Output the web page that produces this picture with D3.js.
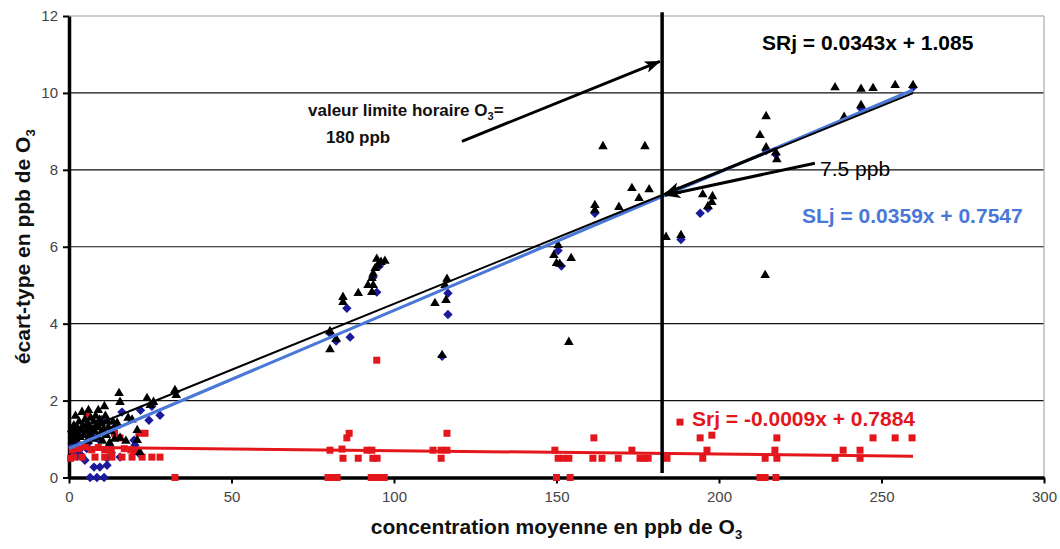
<!DOCTYPE html>
<html><head><meta charset="utf-8">
<script src="https://cdn.jsdelivr.net/npm/d3@7"></script>
<style>body{margin:0;background:#fff} svg{display:block}</style>
</head><body><svg id="c" width="1060" height="549"></svg>
<script>
// ---------- DATA ----------
const xTicks = [0, 50, 100, 150, 200, 250, 300];
const yTicks = [0, 2, 4, 6, 8, 10, 12];
const gridValues = [2, 4, 6, 8, 10];

// SRj (black triangles)
const srjBlackPoints = [
  [0.8,1.25],[1.0,0.95],[1.2,1.1],[1.5,1.35],[1.8,1.2],[2.0,1.6],[2.2,1.0],[2.5,1.3],[2.8,1.15],[3.1,1.45],
  [3.4,1.05],[3.7,1.25],[4.0,1.7],[4.3,1.35],[4.6,1.1],[4.9,1.5],[5.2,1.2],[5.5,0.95],[5.8,1.4],[6.0,1.75],
  [6.1,1.3],[6.4,1.1],[6.7,1.55],[7.0,1.25],[7.3,1.0],[7.6,1.45],[7.9,1.2],[8.2,1.6],[8.5,1.35],[8.8,1.05],
  [9.0,1.75],[9.1,1.3],[9.4,1.5],[9.7,1.15],[10.0,1.4],[10.3,0.95],[10.6,1.25],[10.9,1.85],[11.2,1.6],[11.5,1.1],
  [11.8,1.45],[12.1,1.3],[12.5,0.9],[13.0,1.2],[13.5,1.45],[14.0,1.0],[14.5,1.35],[14.8,1.42],[15.4,2.19],[15.7,1.96],
  [15.7,1.03],[17.5,0.95],[18.2,1.55],[19.4,1.5],[21.0,0.97],[21.0,1.23],[21.8,0.66],[24.0,2.06],[25.0,1.88],[26.0,1.96],
  [32.6,2.27],[33.0,2.14],
  [80.3,3.8],[80.3,3.33],[82.2,3.6],[84.3,4.69],[84.3,4.56],[89.0,4.79],[92.0,5.0],[93.2,5.18],[93.6,5.3],[94.2,5.44],
  [94.7,5.68],[95.0,5.52],[97.2,5.63],[93.6,5.0],[93.2,4.82],[96.0,5.6],
  [116.3,5.16],[115.7,5.0],[112.6,4.53],[116.0,4.61],[114.8,3.18],
  [150.5,6.04],[149.2,5.78],[150.0,5.57],[151.0,5.55],[154.5,5.7],[153.8,3.52],
  [161.8,7.08],[161.8,6.95],[164.3,8.61],[177.2,8.61],[169.2,7.03],[173.2,7.52],[175.4,7.26],[178.5,7.49],
  [183.7,6.25],[188.3,6.3],[195.0,7.36],[196.6,7.05],[197.8,7.16],[198.0,7.31],
  [212.6,8.9],[214.5,9.39],[214.5,8.58],[217.5,8.45],[217.8,8.27],[214.2,5.26],
  [235.7,10.14],[243.7,10.1],[247.4,10.12],[254.2,10.2],[259.7,10.2],[243.7,9.68],[238.5,9.37]
];

// SLj (blue diamonds)
const sljBluePoints = [
  [1.0,0.8],[1.5,0.65],[2.0,0.9],[2.5,0.55],[3.0,0.7],[3.5,0.6],[4.0,0.53],[4.9,0.45],[5.5,0.75],[6.5,0],
  [8.6,0],[10.8,0],[7.7,0.27],[9.5,0.27],[11.7,0.32],[11.7,0.5],[15.7,0.53],[21.5,0.63],[20.0,0.97],[20.3,0.84],
  [16.3,1.7],[24.6,1.49],[28.0,1.62],[12.5,0.8],[13.0,0.65],[7.0,1.1],[9.0,1.0],[3.0,1.2],[5.0,1.3],[10.0,1.5],
  [22.0,1.75],[25.5,1.85],[14.0,1.3],[6.0,0.9],
  [85.5,4.4],[86.5,3.65],[94.7,4.82],[116.6,4.79],[116.6,4.24],[114.8,3.15],[80.3,3.75],[82.2,3.55],[93.5,5.2],[95.5,5.5],
  [150.5,5.9],[151.5,5.5],[161.8,6.87],[188.3,6.19],[194.2,6.87],[196.6,7.0],[217.5,8.4],[214.5,8.5],[243.7,9.6],[259.7,10.15]
];

// Srj (red squares)
const srjRedPoints = [
  [0.5,0.5],[1.5,0.53],[4.0,0.53],[8.0,0.53],[11.0,0.53],[13.2,0.53],[16.3,0.53],[19.4,0.53],[22.5,0.53],[25.5,0.53],
  [28.0,0.53],[1.0,0.72],[3.0,0.75],[5.0,0.8],[7.0,0.72],[9.0,0.78],[11.0,0.72],[13.0,0.7],[17.0,0.75],[19.0,0.72],
  [14.0,1.15],[21.5,1.15],[23.4,1.15],[15.7,1.03],[5.5,1.6],[32.6,0],[20.0,0.7],
  [94.7,3.05],[86.2,1.15],[85.5,1.03],[80.3,0.71],[84.0,0.74],[84.3,0.5],[89.0,0.5],[91.7,0.71],[93.2,0.71],
  [93.5,0.5],[94.8,0.5],[79.7,0],[81.0,0],[82.5,0],[93.0,0],[94.5,0],[96.0,0],[97.0,0],
  [116.3,1.15],[112.0,0.71],[114.5,0.71],[116.3,0.71],[114.5,0.5],
  [150.0,0],[154.2,0],[149.5,0.71],[150.5,0.5],[152.0,0.5],[153.8,0.5],[161.5,1.03],[161.2,0.5],[164.0,0.5],
  [169.0,0.5],[173.2,0.71],[175.7,0.5],[177.0,0.5],[178.2,0.5],[184.0,0.5],[188.0,1.44],
  [194.2,1.03],[197.8,1.1],[196.3,0.71],[195.0,0.5],[214.2,0.5],[217.2,0.71],[217.8,1.03],[217.8,0.5],
  [212.6,0],[214.2,0],[217.5,0],[235.7,0.5],[238.2,0.71],[243.4,0.71],[243.4,0.5],[247.4,1.03],[254.2,1.03],[259.4,1.03]
];

// Trend lines
const trendNames = ["Srj", "SLj", "SRj"];
const trendSlopes = [-0.0009, 0.0359, 0.0343];
const trendIntercepts = [0.7884, 0.7547, 1.085];
const trendXRange = [0, 259.7];
const trendLabels = ["Srj = -0.0009x + 0.7884", "SLj = 0.0359x + 0.7547", "SRj = 0.0343x + 1.085"];

// limit value line
const limitX = 182.5;

// ---------- CHART ----------
const svg = d3.select("#c");
const W = 1060, H = 549;
const L = 69, R = 1044, T = 16, B = 477.5;
const x = d3.scaleLinear().domain([0, 300]).range([L, R]);
const y = d3.scaleLinear().domain([0, 12]).range([B, T]);
const FONT = "Arial, 'Liberation Sans', sans-serif";

svg.append("rect").attr("width", W).attr("height", H).attr("fill", "#fff");

const defs = svg.append("defs");
defs.append("marker").attr("id", "ah").attr("markerUnits", "userSpaceOnUse")
  .attr("markerWidth", 16).attr("markerHeight", 12).attr("refX", 15).attr("refY", 6)
  .attr("orient", "auto")
  .append("path").attr("d", "M0,0L16,6L0,12L4,6Z").attr("fill", "#000");

// grid
svg.append("g").selectAll("line").data(gridValues).join("line")
  .attr("x1", L).attr("x2", R).attr("y1", d => y(d)).attr("y2", d => y(d))
  .attr("stroke", "#111").attr("stroke-width", 1.2);
// top / right border
svg.append("line").attr("x1", L).attr("x2", R).attr("y1", y(12)).attr("y2", y(12)).attr("stroke", "#999").attr("stroke-width", 1.2);
svg.append("line").attr("x1", R).attr("x2", R).attr("y1", y(12)).attr("y2", B).attr("stroke", "#aaa").attr("stroke-width", 1.2);

// axes
const yAxis = d3.axisLeft(y).tickValues(yTicks).tickSize(6).tickSizeOuter(0).tickPadding(5);
const gy = svg.append("g").attr("transform", `translate(${L},0)`).call(yAxis);
const xAxis = d3.axisBottom(x).tickValues(xTicks).tickSize(6).tickSizeOuter(0).tickPadding(8);
const gx = svg.append("g").attr("transform", `translate(0,${B})`).call(xAxis);
[gx, gy].forEach(g => {
  g.select(".domain").attr("stroke", "#000").attr("stroke-width", 3.5);
  g.selectAll(".tick line").attr("stroke", "#000").attr("stroke-width", 2);
  g.selectAll(".tick text").attr("font-family", FONT).attr("font-size", 15).attr("fill", "#444");
});

// symbols
const diamond = { draw(ctx, size) { const r = Math.sqrt(size / 2); ctx.moveTo(0, -r); ctx.lineTo(r, 0); ctx.lineTo(0, r); ctx.lineTo(-r, 0); ctx.closePath(); } };
const pts = svg.append("g");
pts.append("g").selectAll("path").data(sljBluePoints).join("path")
  .attr("d", d3.symbol().type(diamond).size(44))
  .attr("transform", d => `translate(${x(d[0])},${y(d[1])})`)
  .attr("fill", "#1a1a9a");
pts.append("g").selectAll("rect").data(srjRedPoints).join("rect")
  .attr("x", d => x(d[0]) - 3.5).attr("y", d => y(d[1]) - 3.5).attr("width", 7).attr("height", 7)
  .attr("fill", "#e3161c");
pts.append("g").selectAll("path").data(srjBlackPoints).join("path")
  .attr("d", d3.symbol().type(d3.symbolTriangle).size(40))
  .attr("transform", d => `translate(${x(d[0])},${y(d[1])})`)
  .attr("fill", "#000");

// trend lines
const trendColors = ["#e3161c", "#4a78d8", "#000"];
const trendWidths = [3, 3.2, 2];
trendNames.forEach((n, i) => {
  const f = v => trendSlopes[i] * v + trendIntercepts[i];
  svg.append("line")
    .attr("x1", x(trendXRange[0])).attr("y1", y(f(trendXRange[0])))
    .attr("x2", x(trendXRange[1])).attr("y2", y(f(trendXRange[1])))
    .attr("stroke", trendColors[i]).attr("stroke-width", trendWidths[i]);
});

// limit vertical line
svg.append("line").attr("x1", x(limitX)).attr("x2", x(limitX)).attr("y1", y(12.1)).attr("y2", y(0.12))
  .attr("stroke", "#000").attr("stroke-width", 3.5);

// arrows
const srjF = v => trendSlopes[2] * v + trendIntercepts[2];
const arrows = [
  [[120.9, 8.74], [181.8, 10.82]],
  [[229.5, 8.17], [183.5, 7.34]],
  [[217.8, srjF(217.8)], [183.5, srjF(183.5)]]
];
svg.append("g").selectAll("line").data(arrows).join("line")
  .attr("x1", d => x(d[0][0])).attr("y1", d => y(d[0][1]))
  .attr("x2", d => x(d[1][0])).attr("y2", d => y(d[1][1]))
  .attr("stroke", "#000").attr("stroke-width", 3).attr("marker-end", "url(#ah)");

// annotation texts
const txt = (s, px, py, size, weight, color) => svg.append("text").attr("x", px).attr("y", py)
  .attr("font-family", FONT).attr("font-size", size).attr("font-weight", weight).attr("fill", color).text(s);
txt(trendLabels[2], 762, 50, 21, "bold", "#000");
txt(trendLabels[1], 802, 223, 21, "bold", "#4a78d8");
txt(trendLabels[0], 692, 426, 21, "bold", "#e3161c");
txt("7.5 ppb", 820, 176, 21, "normal", "#000");
const v1 = txt("valeur limite horaire O", 308, 116, 17, "bold", "#111");
v1.append("tspan").attr("font-size", 11).attr("dy", 4).text("3");
v1.append("tspan").attr("dy", -4).text("=");
txt("180 ppb", 326, 143, 17, "bold", "#111");

// axis titles
const xt = svg.append("text").attr("x", (L + R) / 2).attr("y", 534).attr("text-anchor", "middle")
  .attr("font-family", FONT).attr("font-size", 21).attr("font-weight", "bold").attr("fill", "#111")
  .text("concentration moyenne en ppb de  O");
xt.append("tspan").attr("font-size", 13).attr("dy", 5).text("3");

const yt = svg.append("text").attr("transform", `translate(30,${(T + B) / 2}) rotate(-90)`).attr("text-anchor", "middle")
  .attr("font-family", FONT).attr("font-size", 21).attr("font-weight", "bold").attr("fill", "#111")
  .text("écart-type en ppb de O");
yt.append("tspan").attr("font-size", 13).attr("dy", 5).text("3");
</script></body></html>
